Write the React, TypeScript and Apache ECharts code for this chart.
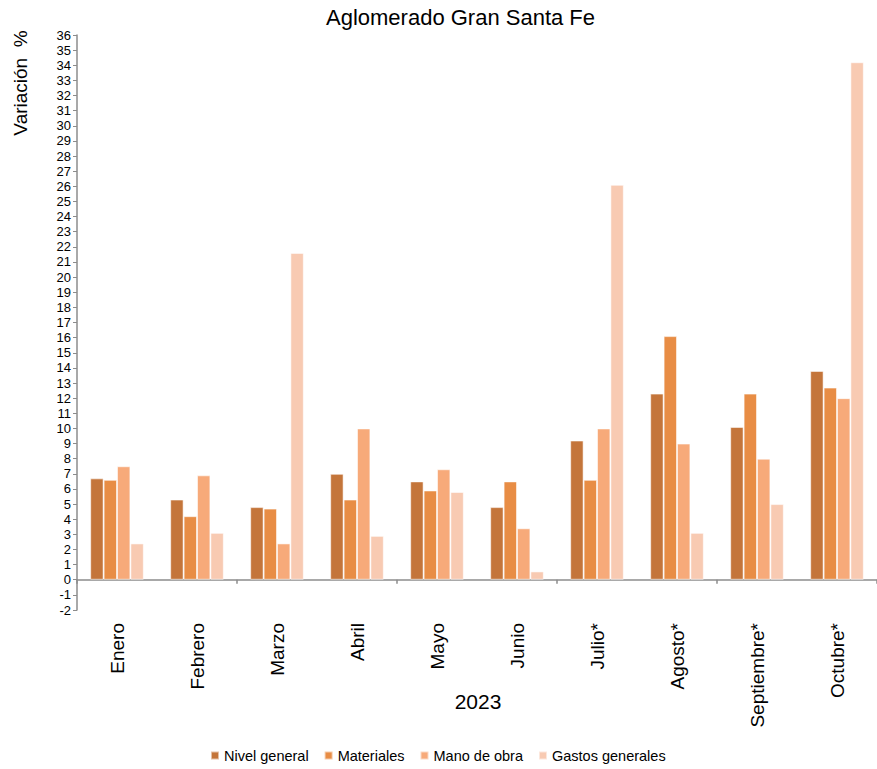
import React, { useEffect, useRef } from "react";
import * as echarts from "echarts";

const months = ["Enero", "Febrero", "Marzo", "Abril", "Mayo", "Junio", "Julio*", "Agosto*", "Septiembre*", "Octubre*"];
const nivelGeneral = [6.7, 5.3, 4.8, 7.0, 6.5, 4.8, 9.2, 12.3, 10.1, 13.8];
const materiales = [6.6, 4.2, 4.7, 5.3, 5.9, 6.5, 6.6, 16.1, 12.3, 12.7];
const manoDeObra = [7.5, 6.9, 2.4, 10.0, 7.3, 3.4, 10.0, 9.0, 8.0, 12.0];
const gastosGenerales = [2.4, 3.1, 21.6, 2.9, 5.8, 0.55, 26.1, 3.1, 5.0, 34.2];
const seriesNames = ["Nivel general", "Materiales", "Mano de obra", "Gastos generales"];
const seriesColors = ["#C4753A", "#E88D45", "#F7AA7A", "#F8CAB2"];
const xAxisTitle = "2023";
const yAxisTitle = "Variación  %";

const FONT = "Liberation Sans, Arial, sans-serif";

export default function App() {
  const ref = useRef<HTMLDivElement>(null);
  useEffect(() => {
    if (!ref.current) return;
    const chart = echarts.init(ref.current, undefined, { renderer: "svg" });
    const data = [nivelGeneral, materiales, manoDeObra, gastosGenerales];
    chart.setOption({
      animation: false,
      backgroundColor: "#ffffff",
      textStyle: { fontFamily: FONT, color: "#000" },
      title: {
        text: "Aglomerado Gran Santa Fe",
        left: 326,
        top: 6,
        padding: 0,
        textStyle: { fontFamily: FONT, fontSize: 22, fontWeight: "normal", color: "#000" },
      },
      legend: {
        data: seriesNames,
        left: 210,
        top: 748,
        padding: 0,
        itemWidth: 8,
        itemHeight: 8,
        itemGap: 15,
        icon: "rect",
        textStyle: { fontFamily: FONT, fontSize: 14.5, color: "#000" },
      },
      graphic: [
        {
          type: "text",
          x: 20,
          y: 83,
          rotation: Math.PI / 2,
          style: {
            text: yAxisTitle,
            fontFamily: FONT,
            fontSize: 19,
            fill: "#000",
            textAlign: "center",
            textVerticalAlign: "middle",
          },
        },
        {
          type: "text",
          x: 478,
          y: 701,
          style: {
            text: xAxisTitle,
            fontFamily: FONT,
            fontSize: 21,
            fill: "#000",
            textAlign: "center",
            textVerticalAlign: "middle",
          },
        },
      ],
      grid: { left: 77, top: 35, width: 809, height: 575 },
      xAxis: [
        {
          type: "category",
          data: months,
          axisLine: { onZero: true, lineStyle: { color: "#8c8c8c", width: 1.5 } },
          axisTick: { show: true, length: 4, lineStyle: { color: "#8c8c8c", width: 1.5 } },
          axisLabel: { show: false },
        },
        {
          type: "category",
          data: months,
          position: "bottom",
          axisLine: { show: false, onZero: false },
          axisTick: { show: false },
          axisLabel: { rotate: 90, margin: 13, fontFamily: FONT, fontSize: 19, color: "#000" },
        },
      ],
      yAxis: {
        type: "value",
        min: -2,
        max: 36,
        interval: 1,
        splitLine: { show: false },
        axisLine: { show: true, lineStyle: { color: "#8c8c8c", width: 1.5 } },
        axisTick: { show: true, length: 4, lineStyle: { color: "#8c8c8c", width: 1 } },
        axisLabel: { fontFamily: FONT, fontSize: 13, color: "#000", margin: 6 },
      },
      series: seriesNames.map((name, i) => ({
        name,
        type: "bar",
        xAxisIndex: 0,
        data: data[i],
        barGap: "0%",
        barCategoryGap: "33%",
        itemStyle: { color: seriesColors[i], borderColor: "rgba(255,255,255,0.55)", borderWidth: 1 },
      })),
    });
    return () => chart.dispose();
  }, []);
  return (
    <div
      ref={ref}
      style={{ position: "fixed", left: 0, top: 0, width: 877, height: 769, background: "#fff" }}
    />
  );
}
